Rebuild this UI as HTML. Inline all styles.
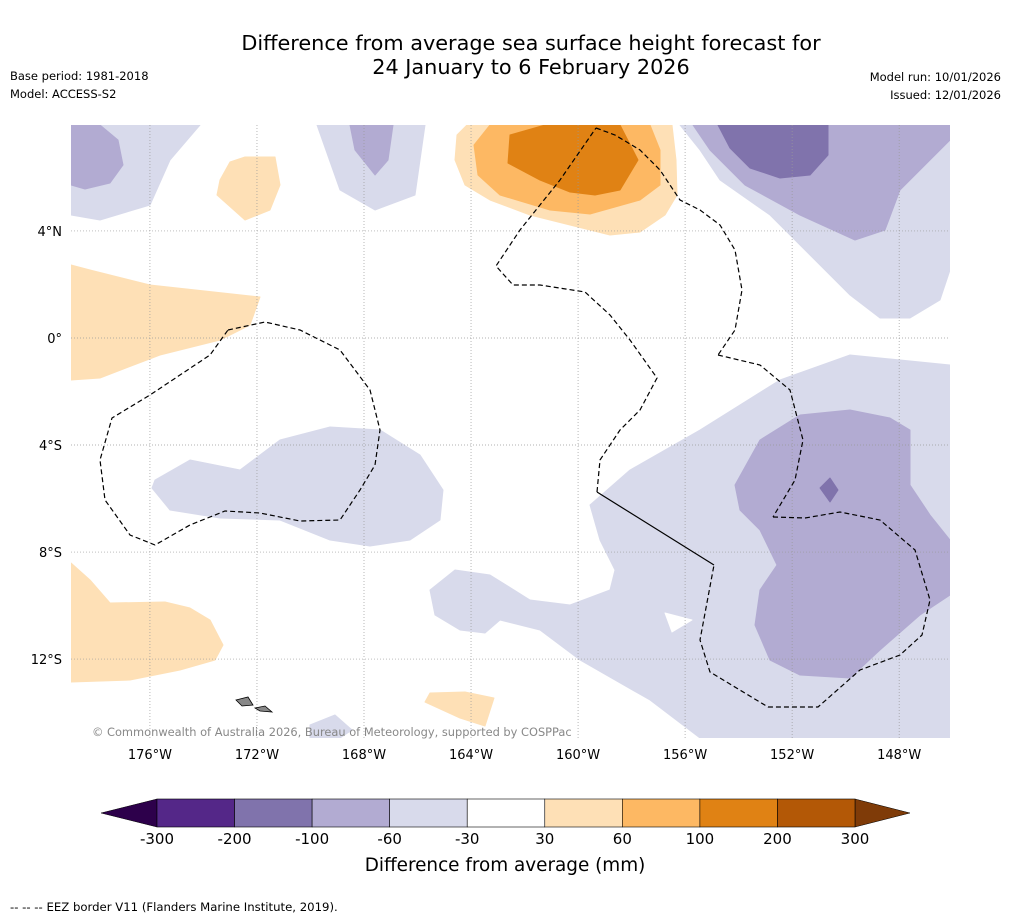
<!DOCTYPE html>
<html><head><meta charset="utf-8">
<style>
body{margin:0;background:#fff;font-family:"DejaVu Sans","Liberation Sans",sans-serif;}
#wrap{position:relative;width:1011px;height:919px;overflow:hidden;}
</style></head>
<body>
<div id="wrap">
<svg id="svg" width="1011" height="919" xmlns="http://www.w3.org/2000/svg">
<text x="531" y="50" text-anchor="middle" font-size="20.8">Difference from average sea surface height forecast for</text>
<text x="531" y="74" text-anchor="middle" font-size="20.8">24 January to 6 February 2026</text>
<text x="10" y="80" font-size="11.5">Base period: 1981-2018</text>
<text x="10" y="98" font-size="11.5">Model: ACCESS-S2</text>
<text x="1001" y="81" font-size="11.5" text-anchor="end">Model run: 10/01/2026</text>
<text x="1001" y="99" font-size="11.5" text-anchor="end">Issued: 12/01/2026</text>
<defs><clipPath id="mapclip"><rect x="71" y="125" width="879" height="613"/></clipPath></defs>
<g id="map" clip-path="url(#mapclip)"></g>
<g id="axes"></g>
<g id="cbar"></g>
<text x="505" y="871" text-anchor="middle" font-size="18.4">Difference from average (mm)</text>
<text x="10" y="911" font-size="11.7">--  --  -- EEZ border V11 (Flanders Marine Institute, 2019).</text>
</svg>
</div>
<script>
const lonTicks=[176,172,168,164,160,156,152,148];
const latTicks=[4,0,-4,-8,-12];
const levels=[-300,-200,-100,-60,-30,30,60,100,200,300];
const levelColors=["#542788","#8073ac","#b2abd2","#d8daeb","#ffffff","#fee0b6","#fdb863","#e08214","#b35806"];
const lonMin=178.95, lonMax=146.1, latMax=7.96, latMin=-14.95;
const X0=71,X1=950,Y0=125,Y1=738;
function xOfLon(l){return X0+(lonMin-l)/(lonMin-lonMax)*(X1-X0);}
function yOfLat(l){return Y0+(latMax-l)/(latMax-latMin)*(Y1-Y0);}
const NS="http://www.w3.org/2000/svg";
function mk(t,a,p){const e=document.createElementNS(NS,t);for(const k in a)e.setAttribute(k,a[k]);p.appendChild(e);return e;}
const map=document.getElementById('map');
const C={l1:"#d8daeb",l2:"#b2abd2",l3:"#8073ac",o1:"#fee0b6",o2:"#fdb863",o3:"#e08214",w:"#ffffff"};
const shapes=[
["l1","71,125 200,125 170,160 150,205 100,220 71,215"],
["l1","317,125 425,125 415,195 375,210 340,190"],
["l1","680,125 950,125 950,270 940,300 910,318 880,318 850,295 810,255 770,215 720,180 700,150"],
["l1","155,480 190,460 240,470 280,440 330,427 380,430 420,455 443,490 440,520 410,540 370,546 330,540 280,520 220,518 170,510 152,488"],
["l1","590,505 630,470 700,430 780,380 850,355 950,365 950,738 700,738 650,700 580,660 540,630 500,620 485,633 460,630 435,615 430,590 455,570 490,575 530,600 570,605 610,590 615,570 600,540"],
["w","665,613 692,620 672,632"],
["l1","310,725 335,715 352,730 340,738 310,738"],
["l2","71,125 100,125 118,140 123,165 110,183 85,189 71,185"],
["l2","350,125 393,125 388,160 375,175 355,150"],
["l2","693,125 950,125 950,140 925,165 900,190 885,230 855,240 800,215 745,185 710,150"],
["l2","735,485 760,440 800,415 850,410 890,418 910,430 910,485 930,515 950,540 950,595 920,615 880,650 850,678 800,675 770,660 755,625 760,590 777,565 760,530 740,510"],
["l3","718,125 828,125 828,155 810,175 780,178 750,168 730,148"],
["l3","820,488 830,478 838,490 830,502"],
["o1","467,125 672,125 676,160 677,195 665,215 640,232 610,235 570,225 530,215 490,200 465,185 455,160 457,135"],
["o1","230,162 245,157 275,157 280,185 270,210 245,220 217,195 220,180"],
["o1","71,265 90,270 150,285 260,297 250,325 220,340 160,355 100,378 71,380"],
["o1","71,563 90,580 110,603 165,602 190,608 210,620 223,645 215,660 180,670 130,680 71,682"],
["o1","430,693 465,692 494,698 485,726 460,718 425,702"],
["o2","474,145 490,125 650,125 660,150 660,185 640,200 590,214 550,210 500,195 478,175"],
["o3","510,135 545,125 620,125 638,160 620,190 595,195 570,192 540,180 508,163"]];
shapes.forEach((s,i)=>{const p=mk('polygon',{points:s[1],fill:C[s[0]],stroke:C[s[0]],'stroke-width':1,'stroke-linejoin':'round'},map);

});
const ax=document.getElementById('axes');
lonTicks.forEach(l=>{const x=xOfLon(l);
const g=mk('line',{x1:x,x2:x,y1:Y0,y2:Y1,stroke:'#999','stroke-width':0.7,'stroke-dasharray':'1,2'},ax);


const t=mk('text',{x:x,y:759,'text-anchor':'middle','font-size':13},ax);t.textContent=l+'°W';

});
latTicks.forEach(l=>{const y=yOfLat(l);
const g=mk('line',{x1:X0,x2:X1,y1:y,y2:y,stroke:'#999','stroke-width':0.7,'stroke-dasharray':'1,2'},ax);


const t=mk('text',{x:62,y:y+5,'text-anchor':'end','font-size':13},ax);t.textContent=l===0?'0°':Math.abs(l)+'°'+(l>0?'N':'S');

});
const eez=[
"M596,128 L615,135 L640,150 L660,170 L680,200 L700,210 L720,225 L735,250 L742,290 L735,330 L718,355",
"M718,355 L760,365 L790,390 L803,440 L795,480 L773,517",
"M773,517 L805,518 L840,512 L880,520 L915,550 L930,600 L922,635 L900,655 L860,670 L818,707 L768,707 L710,672 L700,640 L714,565",
"M597,492 L600,460 L620,430 L640,410 L657,378 L630,340 L610,315 L585,292 L540,285 L513,285 L496,266 L520,230 L560,180 L596,128",
"M228,330 L265,322 L300,330 L340,350 L370,390 L380,430 L375,465 L360,490 L340,520 L300,521 L260,513 L225,511 L190,525 L155,545 L130,535 L105,500 L100,460 L112,418 L150,395 L210,355 L228,330"];
eez.forEach(d=>{const p=mk('path',{d:d,fill:'none',stroke:'#000','stroke-width':1.2,'stroke-dasharray':'5,3'},ax);

});
const sl=mk('line',{x1:714,y1:565,x2:597,y2:492,stroke:'#000','stroke-width':1.2},ax);


[["236,700 248,697 253,705 242,706"],["255,708 265,706 272,712 260,711"]].forEach(s=>{const p=mk('polygon',{points:s[0],fill:'#888',stroke:'#000','stroke-width':0.8},ax);

});
const cp=mk('text',{x:92,y:736,'font-size':11.4,fill:'#888'},ax);cp.textContent='© Commonwealth of Australia 2026, Bureau of Meteorology, supported by COSPPac';


const cb=document.getElementById('cbar');
const cbX0=157,cbX1=855,cbY=799,cbH=28,w=(cbX1-cbX0)/levelColors.length;
const lo=mk('polygon',{points:`${cbX0},${cbY} 101,${cbY+cbH/2} ${cbX0},${cbY+cbH}`,fill:'#2d004b',stroke:'#000','stroke-width':0.5},cb);


const hi=mk('polygon',{points:`${cbX1},${cbY} 910,${cbY+cbH/2} ${cbX1},${cbY+cbH}`,fill:'#7f3b08',stroke:'#000','stroke-width':0.5},cb);


levelColors.forEach((c,i)=>{const r=mk('rect',{x:cbX0+i*w,y:cbY,width:w,height:cbH,fill:c,stroke:'#000','stroke-width':0.6},cb);

});
levels.forEach((v,i)=>{const t=mk('text',{x:cbX0+i*w,y:844,'text-anchor':'middle','font-size':15},cb);t.textContent=v;

});
</script>
</body></html>
